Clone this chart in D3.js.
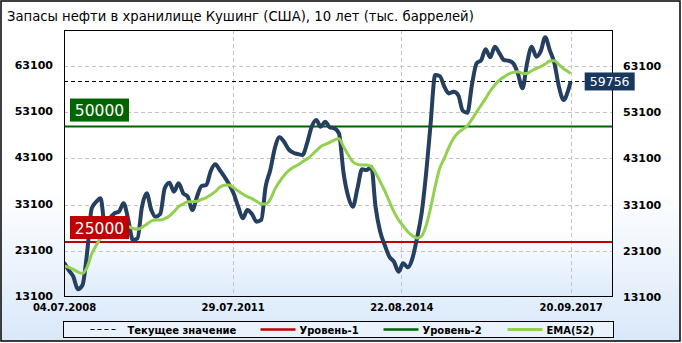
<!DOCTYPE html>
<html>
<head>
<meta charset="utf-8">
<script src="https://d3js.org/d3.v7.min.js"></script>
<style>
  body { margin: 0; background: #fff; }
  svg { display: block; font-family: "DejaVu Sans", sans-serif; }
</style>
</head>
<body>
<div class="canvas"></div>
<script>
const startDate = '2008-07-04'
const stock = [
  20530, 18940, 17500, 14760, 15700, 22550, 32290, 33740, 34460, 27960,
  30130, 31210, 31570, 33370, 29770, 25440, 25800, 32650, 35540, 31930,
  30490, 31070, 36620, 37850, 35900, 37700, 35540, 34820, 31930, 34820,
  37130, 37340, 40230, 41820, 40590, 39150, 37560, 35540, 32650, 30130,
  31930, 31070, 29410, 29770, 36980, 40590, 45280, 47660, 46720, 45060,
  44340, 44050, 43840, 46360, 49970, 51410, 49970, 51050, 49820, 49610,
  48530, 39870, 34820, 32650, 36620, 40730, 40590, 41310, 32650, 27240,
  24360, 21830, 20750, 18580, 20390, 19520, 21470, 25800, 31210, 40230,
  50330, 61150, 60940, 58630, 57180, 57540, 56820, 53430, 53000, 58990,
  63680, 64400, 66710, 64980, 67290, 65840, 64400, 64250, 63680, 61510,
  58270, 63680, 67290, 65120, 66200, 69310, 66560, 63680, 58630, 55740,
  57900
]
const ema = [
  19810, 19520, 19090, 18510, 18220, 19520, 22410, 24360, 25800, 26300,
  27030, 27460, 27890, 28180, 28320, 27960, 27750, 28180, 28830, 29550,
  29770, 29770, 30060, 30630, 31570, 32650, 33230, 33740, 33740, 33810,
  34240, 34600, 35180, 35900, 36840, 37270, 37340, 36770, 36040, 35390,
  34820, 34380, 33810, 33230, 33230, 34240, 36400, 38060, 39360, 40440,
  41170, 41670, 42390, 42970, 43840, 44770, 45640, 46140, 46580, 47080,
  47370, 45640, 43840, 42390, 41820, 41670, 41670, 41310, 40010, 38060,
  36120, 33740, 31570, 29770, 28470, 27240, 26380, 25870, 26300, 28680,
  32290, 36980, 40950, 43110, 45500, 47440, 48670, 49390, 50190, 51560,
  53140, 54660, 56100, 57690, 58990, 60070, 60720, 61370, 61730, 61870,
  61510, 61510, 62090, 62600, 62960, 63530, 64180, 64250, 63390, 62520,
  61870
]
const lastDate = '2017-09-20'
const lastValue = 59756
const lastEma = 61510

const level1 = 25000
const level2 = 50000

const yTicks = [13100, 23100, 33100, 43100, 53100, 63100]
const xTicks = ['2008-07-04', '2011-07-29', '2014-08-22', '2017-09-20']
const xDomain = ['2008-07-04', '2018-06-28']
const yDomain = [13100, 70900]

const title = 'Запасы нефти в хранилище Кушинг (США), 10 лет (тыс. баррелей)'
const legendLabels = ['Текущее значение', 'Уровень-1', 'Уровень-2', 'EMA(52)']

const parse = d3.timeParse('%Y-%m-%d')
const fmt = d3.timeFormat('%d.%m.%Y')

const start = parse(startDate)
const stockData = stock.map((v, i) => ({date: d3.timeMonth.offset(start, i), value: v}))
stockData.push({date: parse(lastDate), value: lastValue})
const emaData = ema.map((v, i) => ({date: d3.timeMonth.offset(start, i), value: v}))
emaData.push({date: parse(lastDate), value: lastEma})

const W = 682, H = 343
const plot = {left: 64, right: 613, top: 30, bottom: 297}

const svg = d3.select('.canvas')
  .append('svg')
  .attr('width', W)
  .attr('height', H)

const defs = svg.append('defs')
const bgGrad = defs.append('linearGradient').attr('id', 'bg').attr('x1', 0).attr('x2', 0).attr('y1', 0).attr('y2', 1)
bgGrad.append('stop').attr('offset', '0%').attr('stop-color', '#ffffff')
bgGrad.append('stop').attr('offset', '55%').attr('stop-color', '#ffffff')
bgGrad.append('stop').attr('offset', '100%').attr('stop-color', '#d9e8fa')
const plotGrad = defs.append('linearGradient').attr('id', 'plotbg').attr('x1', 0).attr('x2', 0).attr('y1', 0).attr('y2', 1)
plotGrad.append('stop').attr('offset', '0%').attr('stop-color', '#ffffff')
plotGrad.append('stop').attr('offset', '74%').attr('stop-color', '#ffffff')
plotGrad.append('stop').attr('offset', '100%').attr('stop-color', '#ddebfb')
defs.append('clipPath').attr('id', 'clip')
  .append('rect')
  .attr('x', plot.left).attr('y', plot.top)
  .attr('width', plot.right - plot.left).attr('height', plot.bottom - plot.top)

svg.append('rect')
  .attr('x', 1).attr('y', 1)
  .attr('width', W - 3).attr('height', H - 3)
  .attr('fill', 'url(#bg)')
  .attr('stroke', '#000')
  .attr('stroke-width', 1.5)

svg.append('text')
  .attr('x', 7).attr('y', 21)
  .attr('font-size', 13.2)
  .attr('fill', '#000')
  .text(title)

svg.append('rect')
  .attr('x', plot.left).attr('y', plot.top)
  .attr('width', plot.right - plot.left).attr('height', plot.bottom - plot.top)
  .attr('fill', 'url(#plotbg)')

const x = d3.scaleTime().domain(xDomain.map(parse)).range([plot.left, plot.right])
const y = d3.scaleLinear().domain(yDomain).range([plot.bottom, plot.top])

// grid
const grid = svg.append('g').attr('stroke', '#c4c4c4').attr('stroke-dasharray', '4,3').attr('stroke-width', 1)
grid.selectAll('line.h')
  .data(yTicks.filter(d => d > yDomain[0]))
  .enter().append('line')
  .attr('class', 'h')
  .attr('x1', plot.left).attr('x2', plot.right)
  .attr('y1', d => Math.round(y(d)) + 0.5).attr('y2', d => Math.round(y(d)) + 0.5)
grid.selectAll('line.v')
  .data(xTicks.slice(1).map(parse))
  .enter().append('line')
  .attr('class', 'v')
  .attr('x1', d => Math.round(x(d)) + 0.5).attr('x2', d => Math.round(x(d)) + 0.5)
  .attr('y1', plot.top).attr('y2', plot.bottom)

const levels = [
  {value: level1, color: '#c00000'},
  {value: level2, color: '#006400'}
]
svg.selectAll('line.level')
  .data(levels)
  .enter().append('line')
  .attr('class', 'level')
  .attr('x1', plot.left).attr('x2', plot.right)
  .attr('y1', d => y(d.value)).attr('y2', d => y(d.value))
  .attr('stroke', d => d.color)
  .attr('stroke-width', 2)

// current value dashed line
svg.append('line')
  .attr('x1', plot.left).attr('x2', x(parse(lastDate)) + 14)
  .attr('y1', Math.round(y(lastValue)) + 0.5).attr('y2', Math.round(y(lastValue)) + 0.5)
  .attr('stroke', '#000')
  .attr('stroke-dasharray', '4,3')
  .attr('stroke-width', 1)

const line = d3.line()
  .x(d => x(d.date))
  .y(d => y(d.value))
  .curve(d3.curveMonotoneX)

const lines = svg.append('g').attr('clip-path', 'url(#clip)')
lines.append('path')
  .datum(stockData)
  .attr('d', line)
  .attr('fill', 'none')
  .attr('stroke', '#243f60')
  .attr('stroke-width', 4)
  .attr('stroke-linejoin', 'round')
lines.append('path')
  .datum(emaData)
  .attr('d', line)
  .attr('fill', 'none')
  .attr('stroke', '#92d050')
  .attr('stroke-width', 3)
  .attr('stroke-linejoin', 'round')

svg.append('rect')
  .attr('x', plot.left + 0.5).attr('y', plot.top + 0.5)
  .attr('width', plot.right - plot.left - 1).attr('height', plot.bottom - plot.top - 1)
  .attr('fill', 'none')
  .attr('stroke', '#000')
  .attr('stroke-width', 1)

// level labels
const levelLabels = [
  {value: level2, color: '#006400', dy: -28},
  {value: level1, color: '#c00000', dy: -26}
]
const lbl = svg.selectAll('g.lvl')
  .data(levelLabels)
  .enter().append('g')
  .attr('class', 'lvl')
  .attr('transform', d => `translate(${plot.left + 6}, ${y(d.value) + d.dy})`)
lbl.append('rect')
  .attr('width', 59).attr('height', 23)
  .attr('fill', d => d.color)
lbl.append('text')
  .attr('x', 29.5).attr('y', 17.5)
  .attr('text-anchor', 'middle')
  .attr('fill', '#fff')
  .attr('font-size', 15.5)
  .text(d => d.value)

// current value label
const cur = svg.append('g')
  .attr('transform', `translate(${x(parse(lastDate)) + 14}, ${y(lastValue) - 9})`)
cur.append('rect').attr('width', 50).attr('height', 18).attr('fill', '#17375e')
cur.append('text')
  .attr('x', 25).attr('y', 13.5)
  .attr('text-anchor', 'middle')
  .attr('fill', '#fff')
  .attr('font-size', 12.5)
  .text(lastValue)

// axes
const yAxisL = d3.axisLeft(y).tickValues(yTicks).tickSize(0).tickPadding(11).tickFormat(d3.format('d'))
const yAxisR = d3.axisRight(y).tickValues(yTicks).tickSize(0).tickPadding(10).tickFormat(d3.format('d'))
const xAxis = d3.axisBottom(x).tickValues(xTicks.map(parse)).tickSize(0).tickPadding(7).tickFormat(fmt)

const gl = svg.append('g').attr('transform', `translate(${plot.left},-1)`).call(yAxisL)
const gr = svg.append('g').attr('transform', `translate(${plot.right},0)`).call(yAxisR)
const gx = svg.append('g').attr('transform', `translate(0,${plot.bottom})`).call(xAxis)
;[gl, gr, gx].forEach(g => {
  g.select('.domain').remove()
  g.selectAll('text')
    .attr('fill', '#000')
    .attr('font-family', 'DejaVu Sans, sans-serif')
    .attr('font-weight', 'bold')
    .attr('font-size', 11)
})
gx.selectAll('text').attr('font-size', 10)

// legend
const legend = svg.append('g').attr('transform', 'translate(63.5, 321.5)')
legend.append('rect')
  .attr('width', 550).attr('height', 16)
  .attr('fill', '#eaf2fc')
  .attr('stroke', '#000')
  .attr('stroke-width', 1)
const legendItems = [
  {x: 27, len: 25, color: '#000', width: 1, dash: '4,3'},
  {x: 197, len: 35, color: '#c00000', width: 2.5, dash: null},
  {x: 320, len: 35, color: '#006400', width: 2.5, dash: null},
  {x: 444, len: 35, color: '#92d050', width: 3, dash: null}
]
const li = legend.selectAll('g.item')
  .data(legendItems)
  .enter().append('g')
  .attr('class', 'item')
  .attr('transform', d => `translate(${d.x}, 8)`)
li.append('line')
  .attr('x1', 0).attr('x2', d => d.len)
  .attr('stroke', d => d.color)
  .attr('stroke-width', d => d.width)
  .attr('stroke-dasharray', d => d.dash)
li.append('text')
  .attr('x', d => d.len + (d.dash ? 12 : 4))
  .attr('y', 4)
  .attr('font-size', 10)
  .attr('font-weight', 'bold')
  .attr('fill', '#000')
  .text((d, i) => legendLabels[i])
</script>
</body>
</html>
